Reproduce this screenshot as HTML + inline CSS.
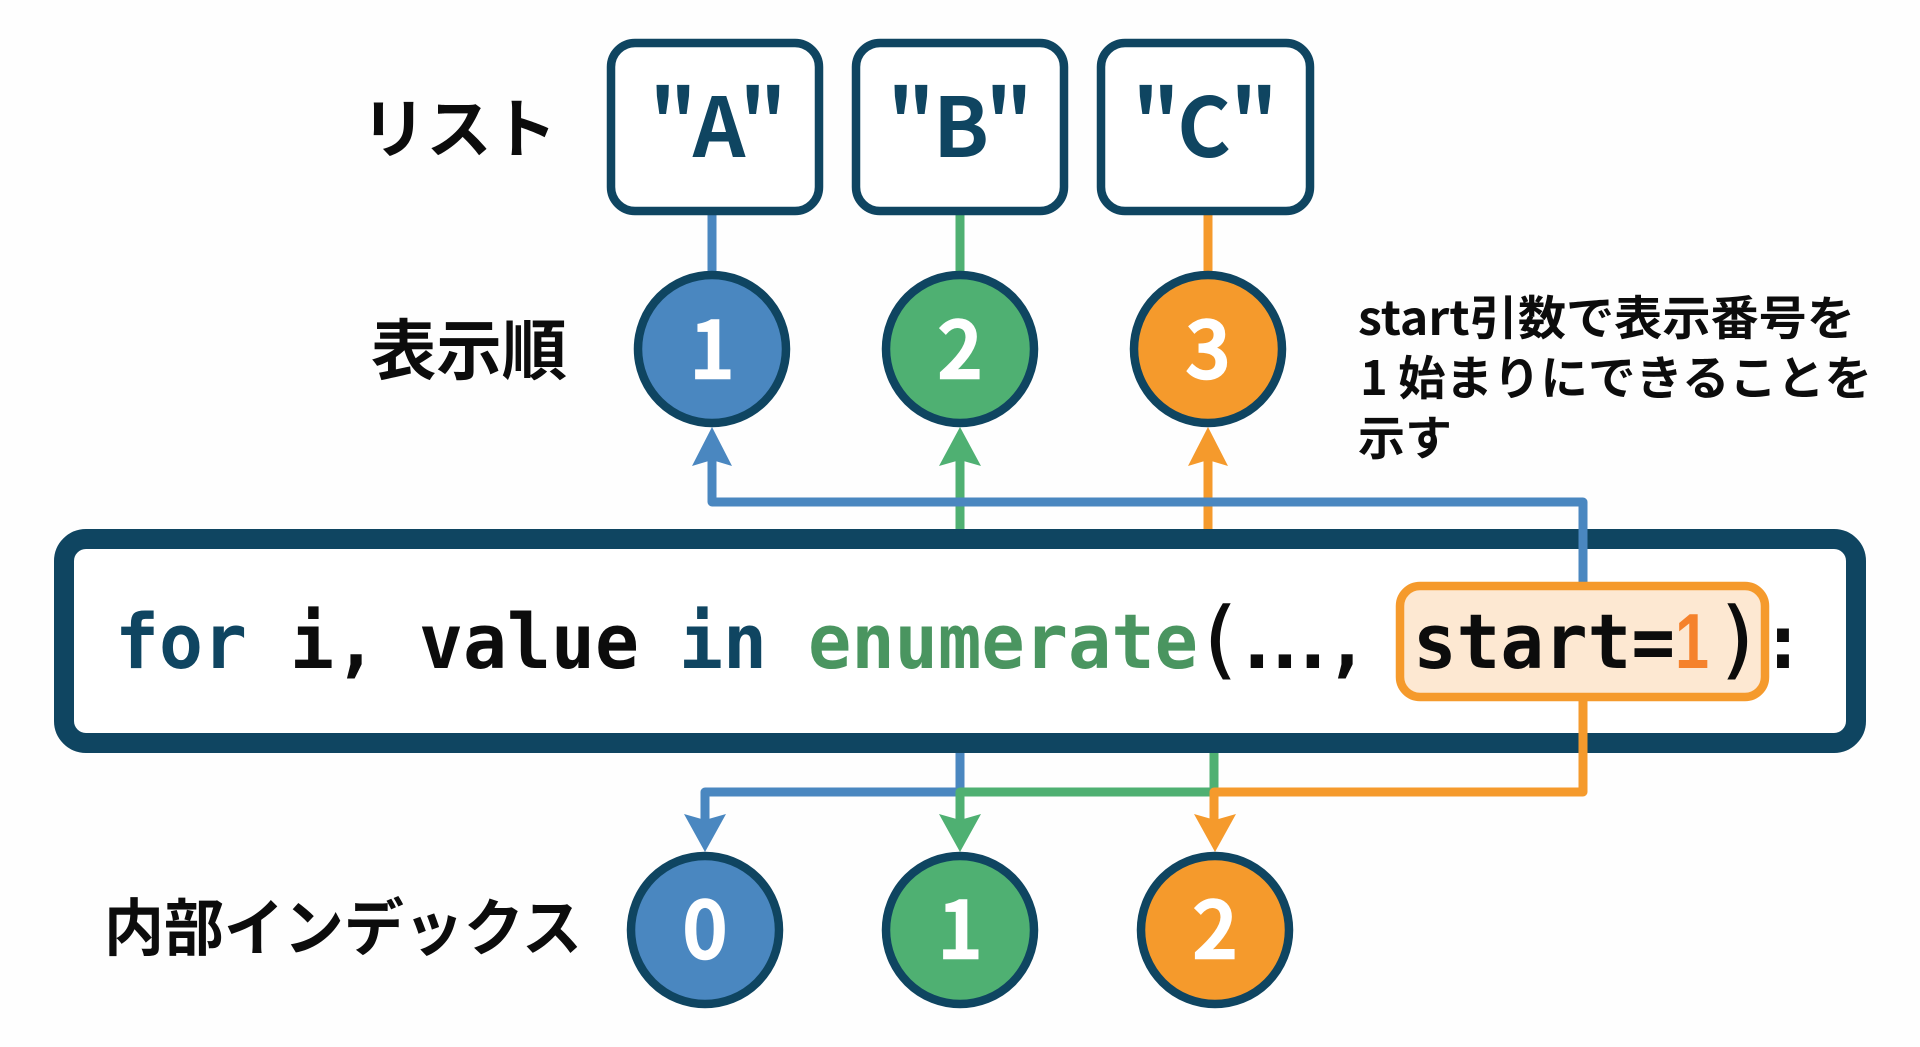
<!DOCTYPE html>
<html lang="ja">
<head>
<meta charset="utf-8">
<title>enumerate start=1</title>
<style>
html,body{margin:0;padding:0;background:#fefefe;width:1920px;height:1047px;overflow:hidden}
svg{display:block}
.cjk{font-family:"Liberation Sans","Noto Sans CJK JP",sans-serif;font-weight:700;fill:#0c0c0c}
.note{font-family:"Noto Sans CJK JP",sans-serif;font-weight:700;fill:#0c0c0c;font-size:47px}
.num{font-family:"Noto Sans CJK JP",sans-serif;font-weight:500;font-size:78px;fill:#fff;stroke:#fff;stroke-width:2.5px;text-anchor:middle}
.box{font-family:"Noto Sans CJK JP",sans-serif;font-weight:700;font-size:82px;fill:#0f4561;text-anchor:middle}
.code{font-family:"DejaVu Sans Mono",monospace;font-weight:700;font-size:76px;fill:#0c0c0c}
.par{font-family:"DejaVu Sans Mono",monospace;font-weight:400;font-size:84px;fill:#0c0c0c;stroke:#0c0c0c;stroke-width:1.5px}
.ln{fill:none;stroke-width:9;stroke-linejoin:round}
.c{stroke:#0f4561;stroke-width:8.5}
</style>
</head>
<body>
<svg width="1920" height="1047" viewBox="0 0 1920 1047" xmlns="http://www.w3.org/2000/svg">
<rect width="1920" height="1047" fill="#fefefe"/>

<!-- list to circle connectors -->
<path class="ln" stroke="#4a87c0" d="M712 211V275"/>
<path class="ln" stroke="#4fb072" d="M960 211V275"/>
<path class="ln" stroke="#f59a2c" d="M1208 211V275"/>

<!-- list boxes -->
<rect x="611" y="43" width="208" height="168" rx="24" fill="#fff" stroke="#0f4561" stroke-width="8.5"/>
<rect x="856" y="43" width="208" height="168" rx="24" fill="#fff" stroke="#0f4561" stroke-width="8.5"/>
<rect x="1101" y="43" width="209" height="168" rx="24" fill="#fff" stroke="#0f4561" stroke-width="8.5"/>
<text class="box" x="673" y="157">"</text><text class="box" x="719" y="157">A</text><text class="box" x="763" y="157">"</text>
<text class="box" x="911" y="157">"</text><text class="box" x="961" y="157">B</text><text class="box" x="1009" y="157">"</text>
<text class="box" x="1156" y="157">"</text><text class="box" x="1204" y="157">C</text><text class="box" x="1254" y="157">"</text>

<!-- display circles -->
<circle class="c" cx="712" cy="349" r="74" fill="#4a87c0"/>
<circle class="c" cx="960" cy="349" r="74" fill="#4fb072"/>
<circle class="c" cx="1208" cy="349" r="74" fill="#f59a2c"/>
<text class="num" x="712" y="378">1</text>
<text class="num" x="960" y="378">2</text>
<text class="num" x="1208" y="378">3</text>

<!-- green and orange upper connectors -->
<path class="ln" stroke="#4fb072" d="M960 458V532"/>
<path class="ln" stroke="#f59a2c" d="M1208 458V532"/>

<!-- code box -->
<rect x="64" y="539" width="1792" height="204" rx="22" fill="#fff" stroke="#0f4561" stroke-width="20"/>

<!-- blue upper connector runs over the code box -->
<path class="ln" stroke="#4a87c0" d="M712 458V502H1583V584"/>
<polygon fill="#4a87c0" points="712,427 732,466 712,460 692,466"/>
<polygon fill="#4fb072" points="960,427 981,466 960,460 939,466"/>
<polygon fill="#f59a2c" points="1208,427 1228,466 1208,460 1188,466"/>

<!-- highlight -->
<rect x="1400" y="586" width="365" height="111" rx="20" fill="#fde8d2" stroke="#f59a2c" stroke-width="8.5"/>

<!-- code text -->
<text class="code" x="115" y="668" style="fill:#0f4561" textLength="132" lengthAdjust="spacingAndGlyphs">for</text>
<text class="code" x="290" y="668" textLength="88" lengthAdjust="spacingAndGlyphs">i,</text>
<text class="code" x="419" y="668" textLength="220" lengthAdjust="spacingAndGlyphs">value</text>
<text class="code" x="679" y="668" style="fill:#0f4561" textLength="88" lengthAdjust="spacingAndGlyphs">in</text>
<text class="code" x="808" y="668" style="fill:#4a9560" textLength="390" lengthAdjust="spacingAndGlyphs">enumerate</text>
<text class="par" x="1195" y="668" textLength="48" lengthAdjust="spacingAndGlyphs">(</text>
<text class="code" x="1234" y="668">.</text>
<text class="code" x="1262" y="668">.</text>
<text class="code" x="1290" y="668">.</text>
<text class="code" x="1325" y="668" textLength="44" lengthAdjust="spacingAndGlyphs">,</text>
<text class="code" x="1413" y="668" textLength="262" lengthAdjust="spacingAndGlyphs">start=</text>
<text x="1675" y="668" textLength="34" lengthAdjust="spacingAndGlyphs" style="font-family:'Liberation Sans',sans-serif;font-weight:700;font-size:78px;fill:#f5822c">1</text>
<text class="par" x="1715" y="668" textLength="48" lengthAdjust="spacingAndGlyphs">)</text>
<text class="code" x="1761" y="668" textLength="44" lengthAdjust="spacingAndGlyphs">:</text>

<!-- lower connectors -->
<path class="ln" stroke="#4a87c0" d="M960 753V792H705V820"/>
<path class="ln" stroke="#4fb072" d="M1214 753V792H960V820"/>
<path class="ln" stroke="#f59a2c" d="M1583 701V792H1214V820"/>
<polygon fill="#4a87c0" points="705,852 684,814 705,820 726,814"/>
<polygon fill="#4fb072" points="960,852 939,814 960,820 981,814"/>
<polygon fill="#f59a2c" points="1215,852 1194,814 1215,820 1236,814"/>

<!-- index circles -->
<circle class="c" cx="705" cy="930" r="74" fill="#4a87c0"/>
<circle class="c" cx="960" cy="930" r="74" fill="#4fb072"/>
<circle class="c" cx="1215" cy="930" r="74" fill="#f59a2c"/>
<text class="num" x="705" y="958">0</text>
<text class="num" x="960" y="958">1</text>
<text class="num" x="1215" y="958">2</text>

<!-- labels -->
<text class="cjk" x="361" y="152" font-size="65" textLength="196" lengthAdjust="spacingAndGlyphs">リスト</text>
<text class="cjk" x="371" y="374" font-size="66" textLength="196" lengthAdjust="spacingAndGlyphs">表示順</text>
<text class="cjk" x="104" y="950" font-size="62" textLength="478" lengthAdjust="spacingAndGlyphs">内部インデックス</text>

<!-- annotation -->
<text class="note" x="1358" y="335" textLength="497" lengthAdjust="spacingAndGlyphs">start引数で表示番号を</text>
<text class="note" x="1360" y="395">1</text>
<text class="note" x="1398" y="395" textLength="474" lengthAdjust="spacingAndGlyphs">始まりにできることを</text>
<text class="note" x="1358" y="455">示す</text>
</svg>
</body>
</html>
